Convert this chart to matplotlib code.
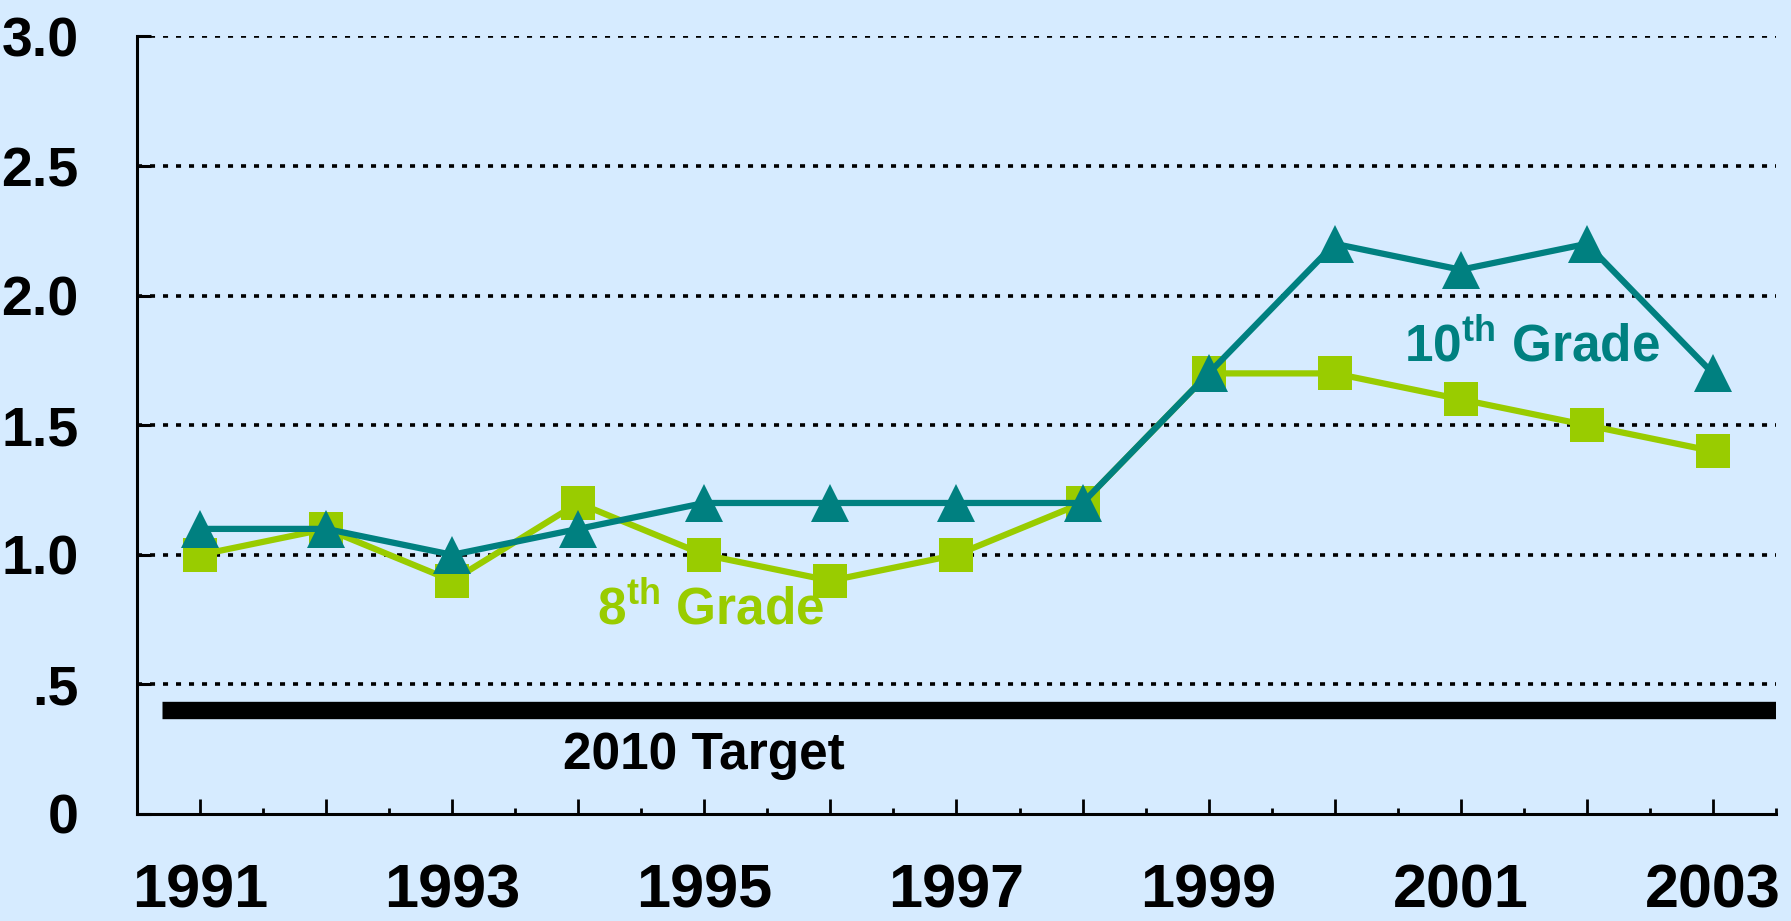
import matplotlib
matplotlib.use("Agg")
import matplotlib.pyplot as plt
from matplotlib.ticker import MultipleLocator

plt.rcParams['font.family'] = ['Liberation Sans', 'DejaVu Sans']
plt.rcParams['font.weight'] = 'bold'
plt.rcParams['mathtext.fontset'] = 'custom'
plt.rcParams['mathtext.rm'] = 'Liberation Sans:bold'
plt.rcParams['mathtext.bf'] = 'Liberation Sans:bold'

years = [1991, 1992, 1993, 1994, 1995, 1996, 1997, 1998, 1999, 2000, 2001, 2002, 2003]
grade10 = [1.1, 1.1, 1.0, 1.1, 1.2, 1.2, 1.2, 1.2, 1.7, 2.2, 2.1, 2.2, 1.7]
grade8 = [1.0, 1.1, 0.9, 1.2, 1.0, 0.9, 1.0, 1.2, 1.7, 1.7, 1.6, 1.5, 1.4]
target = 0.4
y_ticks = [0, 0.5, 1.0, 1.5, 2.0, 2.5, 3.0]
y_labels = ["0", ".5", "1.0", "1.5", "2.0", "2.5", "3.0"]

BG = "#D6EBFF"
TEAL = "#008080"
GREEN = "#99CC00"

fig = plt.figure(figsize=(17.91, 9.21), dpi=100, facecolor=BG)
ax = fig.add_axes([0.0765, 0.1162, 0.9151, 0.8442])
ax.set_facecolor(BG)

# target line
ax.hlines(target, 1990.7, 2003.5, color="black", linewidth=12.5, capstyle="butt", zorder=2)

ax.plot(years, grade8, color=GREEN, linewidth=4.5, marker="s", markersize=25,
        markeredgewidth=0, zorder=3)
ax.plot(years, grade10, color=TEAL, linewidth=4.5, marker="^", markersize=28,
        markeredgewidth=0, zorder=4)

ax.set_xlim(1990.5, 2003.5)
ax.set_ylim(0, 3.0)

# grid (no dotted line on top of the x axis)
ax.set_yticks(y_ticks)
ax.set_yticklabels(y_labels, fontsize=40, fontweight="bold")
ax.yaxis.grid(True, color="black", linewidth=2.6, linestyle=(0, (1.4, 2.2)))
ax.yaxis.get_gridlines()[0].set_visible(False)
ax.tick_params(axis="y", direction="in", length=10, width=2.2, pad=42)

ax.set_xticks(years)
ax.set_xticklabels([str(y) if y % 2 == 1 else "" for y in years], fontsize=44,
                   fontweight="bold")
ax.xaxis.set_minor_locator(MultipleLocator(0.5))
ax.tick_params(axis="x", which="major", direction="in", length=11, width=2, pad=36)
ax.tick_params(axis="x", which="minor", direction="in", length=4, width=2)

for s in ["top", "right"]:
    ax.spines[s].set_visible(False)
for s in ["left", "bottom"]:
    ax.spines[s].set_linewidth(2.2)
    ax.spines[s].set_color("black")
    ax.spines[s].set_zorder(5)

ax.text(2000.55, 1.748, "10$^{\\mathrm{th}}$ Grade", color=TEAL, fontsize=37,
        fontweight="bold", ha="left", va="baseline")
ax.text(1994.15, 0.733, "8$^{\\mathrm{th}}$ Grade", color=GREEN, fontsize=37,
        fontweight="bold", ha="left", va="baseline")
ax.text(1993.88, 0.174, "2010 Target", color="black", fontsize=37,
        fontweight="bold", ha="left", va="baseline")

plt.savefig("out.png", dpi=100, facecolor=BG)
